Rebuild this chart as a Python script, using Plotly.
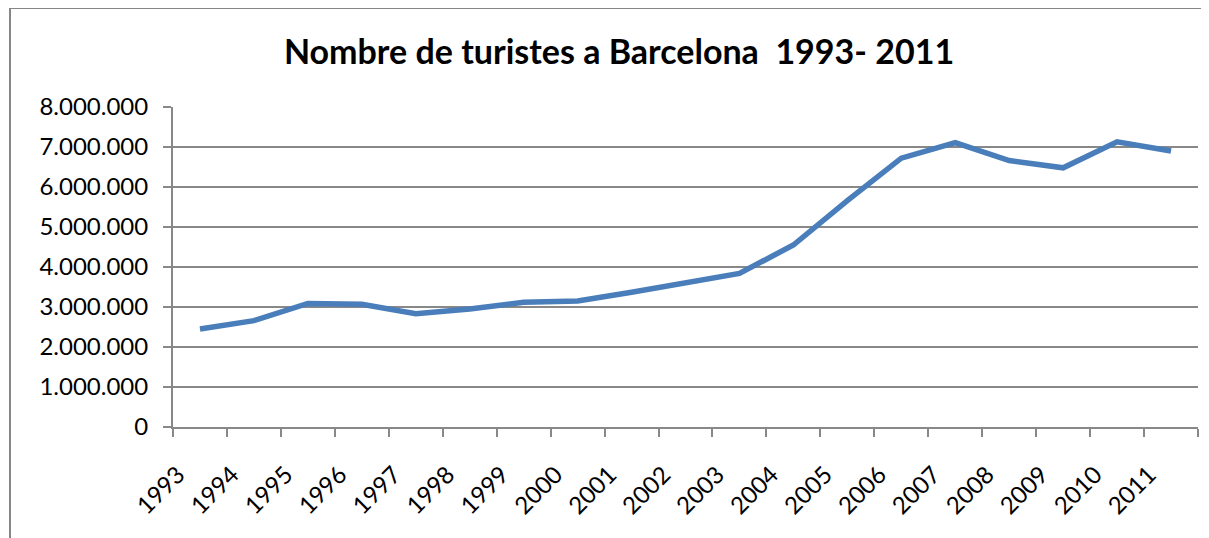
import plotly.graph_objects as go

# Tourists in Barcelona per year
years = [str(y) for y in range(1993, 2012)]
tourists = [2450000, 2660000, 3090000, 3070000, 2830000, 2950000, 3120000, 3150000,
            3370000, 3600000, 3840000, 4550000, 5660000, 6720000, 7110000, 6660000,
            6480000, 7130000, 6900000]

ytick_vals = [0, 1000000, 2000000, 3000000, 4000000, 5000000, 6000000, 7000000, 8000000]

grid_color = "#888888"
font_name = "Lato, 'Open Sans', sans-serif"

# the page body has an 8px margin, so the figure is sized to the visible area
W, H = 1201, 530

fig = go.Figure()

fig.add_trace(go.Scatter(
    x=years,
    y=tourists,
    mode="lines",
    line=dict(color="#4a7ebb", width=5.5),
    showlegend=False,
))

fig.update_layout(
    width=W,
    height=H,
    autosize=False,
    paper_bgcolor="white",
    plot_bgcolor="white",
    margin=dict(l=165, r=11, t=99, b=111),
    separators=",.",
    font=dict(family=font_name, size=24, color="black"),
    title=dict(
        text="<b>Nombre de turistes a Barcelona  1993- 2011</b>",
        x=(619 - 8) / W, xanchor="center",
        y=1 - (52 - 8) / H, yanchor="middle",
        font=dict(family=font_name, size=34, color="black"),
    ),
)

fig.update_xaxes(
    type="category",
    range=[-0.5, len(years) - 0.5],
    tickson="boundaries",
    ticks="outside",
    ticklen=8,
    tickwidth=2,
    tickcolor=grid_color,
    showline=True,
    linecolor=grid_color,
    linewidth=2,
    showgrid=False,
    tickangle=-45,
    ticklabelstandoff=22,
    ticklabelshift=-22,
    tickfont=dict(size=24),
)

fig.update_yaxes(
    range=[0, 8000000],
    tickvals=ytick_vals,
    tickformat=",d",
    ticks="outside",
    ticklen=8,
    tickwidth=2,
    tickcolor=grid_color,
    showline=True,
    linecolor=grid_color,
    linewidth=2,
    showgrid=True,
    gridcolor=grid_color,
    gridwidth=2,
    zeroline=False,
    ticklabelstandoff=10,
    tickfont=dict(size=24),
)

# chart frame: only the left and top edges fall inside the view
frame_left = (10 - 173) / 1025
frame_top = (427 - 8) / 320
fig.add_shape(type="line", xref="paper", yref="paper",
              x0=frame_left, x1=frame_left, y0=-0.6, y1=frame_top,
              line=dict(color="#868686", width=2), layer="below")
fig.add_shape(type="line", xref="paper", yref="paper",
              x0=frame_left, x1=1.2, y0=frame_top, y1=frame_top,
              line=dict(color="#868686", width=2), layer="below")

fig.write_html("out.html", config={"displayModeBar": False})
